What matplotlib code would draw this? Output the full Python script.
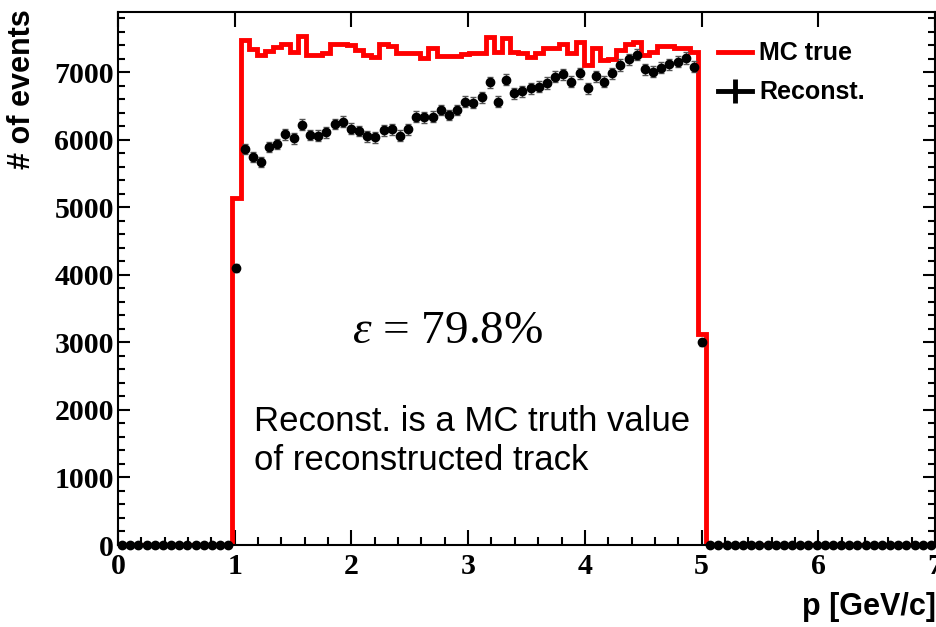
import numpy as np
import matplotlib
matplotlib.use("Agg")
import matplotlib.pyplot as plt
from matplotlib.lines import Line2D
from matplotlib.legend_handler import HandlerTuple

# 100 bins of 0.07 GeV/c between 0 and 7
edges = np.linspace(0, 7, 101)

mc_true = [0] * 14 + [
    5130, 7470, 7340, 7250, 7320, 7370, 7420, 7300, 7540, 7250,
    7260, 7280, 7420, 7420, 7400, 7330, 7250, 7220, 7410, 7390,
    7280, 7280, 7280, 7210, 7350, 7240, 7240, 7240, 7270, 7280,
    7290, 7520, 7300, 7500, 7300, 7280, 7220, 7280, 7350, 7350,
    7420, 7290, 7450, 7100, 7350, 7180, 7200, 7330, 7420, 7450,
    7250, 7300, 7390, 7380, 7350, 7350, 7300, 3120,
] + [0] * 28

reconst = [0] * 14 + [
    4100, 5860, 5740, 5670, 5890, 5940, 6080, 6020, 6220, 6070,
    6060, 6110, 6230, 6265, 6165, 6130, 6050, 6035, 6140, 6155,
    6060, 6155, 6340, 6330, 6340, 6440, 6365, 6440, 6560, 6545,
    6625, 6850, 6560, 6890, 6685, 6720, 6760, 6785, 6840, 6930,
    6970, 6860, 6980, 6760, 6940, 6860, 6980, 7105, 7190, 7260,
    7040, 7005, 7065, 7115, 7155, 7210, 7080, 3000,
] + [0] * 28

mc_true = np.array(mc_true, dtype=float)
reconst = np.array(reconst, dtype=float)
centers = 0.5 * (edges[:-1] + edges[1:])

plt.rcParams['mathtext.fontset'] = 'custom'
plt.rcParams['mathtext.rm'] = 'Liberation Serif'
plt.rcParams['mathtext.it'] = 'Liberation Serif:italic'

fig = plt.figure(figsize=(9.37, 6.27), dpi=100)
ax = fig.add_axes([118 / 937, 82 / 627, 817 / 937, 533 / 627])

ax.stairs(mc_true, edges, color='#ff0000', lw=3.5, zorder=2)
ax.errorbar(centers, reconst, yerr=np.sqrt(reconst), fmt='o', color='black',
            ms=6, elinewidth=1.0, ecolor='#555555', capsize=2.5, capthick=1.0,
            zorder=3, clip_on=False)

ax.set_xlim(0, 7)
ax.set_ylim(0, 7890)
ax.set_xticks(np.arange(0, 8, 1))
ax.set_xticks(np.arange(0, 7.01, 0.2), minor=True)
ax.set_yticks(np.arange(0, 8000, 1000))
ax.set_yticks(np.arange(0, 7890, 200), minor=True)

for s in ax.spines.values():
    s.set_linewidth(1.5)

ax.tick_params(axis='x', which='major', direction='in', top=True, length=10.5, width=1.5, pad=6)
ax.tick_params(axis='x', which='minor', direction='in', top=False, length=5.5, width=1.5)
ax.tick_params(axis='y', which='major', direction='in', right=True, length=8.5, width=1.5, pad=3)
ax.tick_params(axis='y', which='minor', direction='in', right=True, length=4.7, width=1.5)
for lab in ax.get_xticklabels() + ax.get_yticklabels():
    lab.set_family('Liberation Serif')
    lab.set_fontweight('bold')
    lab.set_fontsize(21.5)

fig.text(22 / 937, 1 - 9 / 627, '# of events', rotation=90, ha='center', va='top',
         family='Liberation Sans', fontweight='bold', fontsize=22)
fig.text(936 / 937, 1 - 607 / 627, 'p [GeV/c]', ha='right', va='center',
         family='Liberation Sans', fontweight='bold', fontsize=22)

ax.text(0.287, 0.4, r'$\varepsilon$ = 79.8%', transform=ax.transAxes,
        family='Liberation Serif', fontsize=34, ha='left', va='center')
ax.text(0.167, 0.195, 'Reconst. is a MC truth value\nof reconstructed track',
        transform=ax.transAxes, family='Liberation Sans', fontsize=25,
        ha='left', va='center', linespacing=1.25)

h_mc = Line2D([], [], color='#ff0000', lw=3.5)
h_rec = (Line2D([], [], color='black', lw=3.5),
         Line2D([], [], color='black', lw=0, marker='|', ms=17, mew=3.5))
ax.legend([h_mc, h_rec], ['MC true', 'Reconst.'], loc='upper left',
          bbox_to_anchor=(0.734, 0.945), frameon=False, borderpad=0,
          borderaxespad=0, handlelength=1.36, handletextpad=0.3, labelspacing=0.6,
          handler_map={tuple: HandlerTuple(ndivide=1)},
          prop={'family': 'Liberation Sans', 'weight': 'bold', 'size': 18})

fig.savefig('out.png', dpi=100)
